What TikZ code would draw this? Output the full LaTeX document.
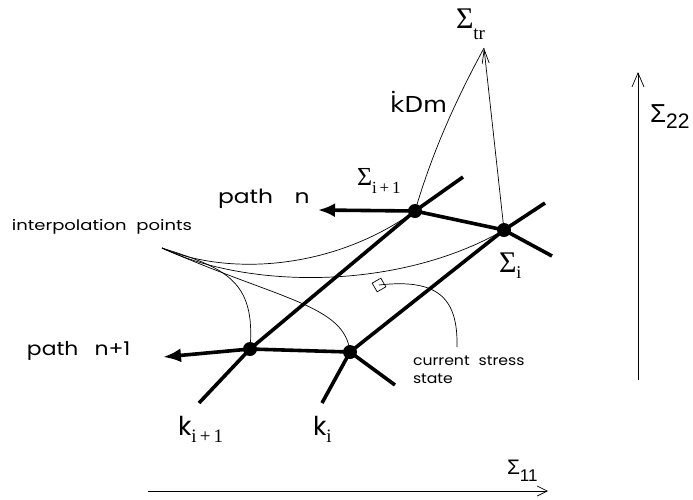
\documentclass[tikz,border=0pt]{standalone}
\usepackage{fontspec}
\usepackage{graphicx}
\usetikzlibrary{arrows.meta}
\newfontfamily\lblf{Poppins}
\newfontfamily\axf{Liberation Sans}
\newfontfamily\sgf{Liberation Serif}
\newfontfamily\dvf{DejaVu Sans}
\pgfdeclarelayer{bg}
\pgfsetlayers{bg,main}
\newcommand\wtxt[2]{\scalebox{#1}[1]{#2}}
\tikzset{
  thickline/.style={line width=3.6pt},
  thinline/.style={line width=0.7pt},
  dot/.style={circle, fill=black, inner sep=0pt, minimum size=14pt},
  lab/.style={anchor=base west, inner sep=0pt, outer sep=0pt},
}
\begin{document}
\begin{tikzpicture}[x=1pt,y=-1pt]
\useasboundingbox (0,0) rectangle (693,499);
% main nodes
\node[dot] (s1) at (415,211) {};
\node[dot] (si) at (504,230) {};
\node[dot] (k1) at (250,349) {};
\node[dot] (ki) at (350,352) {};
\node[draw, thinline, minimum size=10pt, inner sep=0pt, rotate=30] (cs) at (379,285) {};
% free ends
\coordinate (apex) at (484,48);
\coordinate (ip) at (162,248);
\coordinate (pn) at (318,210);
\coordinate (pn1) at (163,357);
\coordinate (a1lo) at (199,403);
\coordinate (a1hi) at (463,177);
\coordinate (a2lo) at (322,403);
\coordinate (a2hi) at (545,203);
\coordinate (sir) at (552,256);
\coordinate (kir) at (395,385);
\coordinate (cst) at (457,347);
\coordinate (v0) at (638,380);
\coordinate (v1) at (638,72);
\coordinate (h0) at (148,491);
\coordinate (h1) at (548,491);
\begin{pgfonlayer}{bg}
% thin curves
\draw[thinline] (s1.center) .. controls (433,150) and (456,100) .. (apex);
\draw[thinline, -{Straight Barb[length=14pt,width=7pt]}] (si.center) -- (apex);
\draw[thinline] (ip) .. controls (225,275) and (330,272) .. (s1.center);
\draw[thinline] (ip) .. controls (250,290) and (400,290) .. (si.center);
\draw[thinline] (ip) .. controls (225,268) and (256,280) .. (k1.center);
\draw[thinline] (ip) .. controls (280,300) and (345,305) .. (ki.center);
\draw[thinline] (cs.center) .. controls (440,278) and (458,300) .. (cst);
% thick lines
\draw[thickline] (a1lo) -- (k1.center) -- (s1.center) -- (a1hi);
\draw[thickline] (a2lo) -- (ki.center) -- (si.center) -- (a2hi);
\draw[thickline] (s1.center) -- (si.center) -- (sir);
\draw[thickline] (k1.center) -- (ki.center) -- (kir);
\draw[thickline, -{Latex[length=17pt,width=14pt]}] (s1.center) -- (pn);
\draw[thickline, -{Latex[length=18pt,width=14pt]}] (k1.center) -- (pn1);
% axes
\draw[thinline, -{Straight Barb[length=14pt,width=12pt]}] (v0) -- (v1);
\draw[thinline, -{Straight Barb[length=10pt,width=10pt]}] (h0) -- (h1);
\end{pgfonlayer}
% labels
\node[lab] (tpn) at (218,203) {\lblf\fontsize{19.5}{19.5}\selectfont\wtxt{1.2}{path\hspace{18pt}n}};
\node[lab] (tpn1) at (27,355) {\lblf\fontsize{19}{19}\selectfont\wtxt{1.15}{path\hspace{14pt}n+1}};
\node[lab] (tip) at (12,230) {\lblf\fontsize{14.5}{14.5}\selectfont\wtxt{1.24}{interpolation\hspace{8pt}points}};
\node[lab] (tcs1) at (413,365) {\lblf\fontsize{14}{14}\selectfont\wtxt{1.12}{current\hspace{8pt}stress}};
\node[lab] (tcs2) at (413,383) {\lblf\fontsize{14}{14}\selectfont\wtxt{1.12}{state}};
\node[lab] (tkdm) at (390,112) {\dvf\fontsize{22}{22}\selectfont\wtxt{1.12}{k̇Dm}};
\node[lab] (ltr) at (456,28) {\sgf\fontsize{30}{30}\selectfont Σ\raisebox{-11pt}{\fontsize{19}{19}\selectfont tr}};
\node[lab] (ls1) at (357,185) {\sgf\fontsize{26}{26}\selectfont Σ\raisebox{-8pt}{\fontsize{17}{17}\selectfont i\,+\,1}};
\node[lab] (lsi) at (499,272) {\sgf\fontsize{30}{30}\selectfont Σ\raisebox{-6pt}{\fontsize{18}{18}\selectfont i}};
\node[lab] (lk1) at (178,435) {\lblf\fontsize{26}{26}\selectfont k\raisebox{-7pt}{\sgf\fontsize{19}{19}\selectfont i\,+\,1}};
\node[lab] (lki) at (313,435) {\lblf\fontsize{26}{26}\selectfont k\raisebox{-7pt}{\sgf\fontsize{19}{19}\selectfont i}};
\node[lab] (l22) at (650,122) {\axf\fontsize{26}{26}\selectfont Σ\raisebox{-6pt}{\fontsize{21}{21}\selectfont 22}};
\node[lab] (l11) at (507,474) {\axf\fontsize{21}{21}\selectfont Σ\raisebox{-7pt}{\fontsize{17}{17}\selectfont 11}};
\end{tikzpicture}
\end{document}
